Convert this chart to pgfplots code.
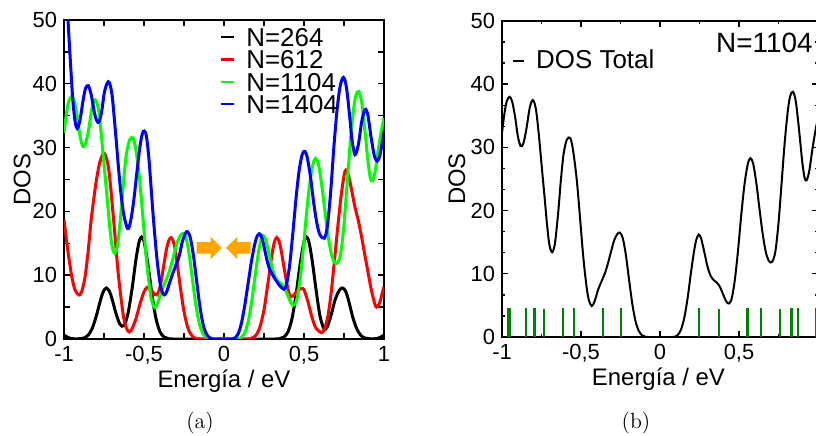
\documentclass[border=0pt]{standalone}
\usepackage{fontspec}
\usepackage{pgfplots}
\pgfplotsset{compat=1.18}
\newfontfamily\arial{Liberation Sans}
\definecolor{myorange}{RGB}{255,165,0}
\definecolor{stickgreen}{RGB}{0,128,0}

\pgfplotsset{
  dosaxis/.style={
    scale only axis, anchor=south west,
    xmin=-1, xmax=1, ymin=0, ymax=50,
    xtick={-1,-0.5,0,0.5,1},
    minor xtick={-0.75,-0.25,0.25,0.75},
    ytick={0,10,20,30,40,50},
    yticklabels={0,10,20,30,40,50},
    tick align=inside,
    major tick length=3bp, minor tick length=3bp,
    every tick/.style={black, line width=0.7bp},
    axis line style={line width=1bp},
    tick label style={font=\arial\fontsize{11}{12}\selectfont},
    label style={font=\arial\fontsize{12}{14}\selectfont},
    xtick pos=both, ytick pos=both,
    xticklabel pos=lower, yticklabel pos=left,
    xlabel={Energía / eV}, ylabel={DOS},
  }
}

\begin{document}
\begin{tikzpicture}
\useasboundingbox (0,0) rectangle (408bp,218bp);

% ---------------- (a) ----------------
\begin{axis}[dosaxis,
  at={(32bp,48.5bp)}, width=160bp, height=159.5bp,
  xticklabels={{-1},{-0,5},{0},{0,5},{1}},
  minor ytick={5,15,25,35,45},
  xlabel style={at={(axis description cs:0.5,-0.151)}, anchor=base},
  ylabel style={at={(axis description cs:-0.131,0.5)}, anchor=center},
  legend style={at={(axis description cs:0.4875,0.975)}, anchor=north west,
    draw=none, fill=none, inner sep=0pt, outer sep=0pt,
    font=\arial\fontsize{13}{14}\selectfont,
    row sep=1.85bp, column sep=5.5bp,
    nodes={inner sep=0pt, text height=9.3bp, text depth=0pt}},
  legend cell align=left,
  legend image code/.code={\draw[#1, line width=1.2bp] (0bp,0bp) -- (6.5bp,0bp);},
]
\addplot[black, line width=1.5bp, smooth] coordinates {
(-1.0,0.6) (-0.98,0.3) (-0.96,0.1) (-0.93,0.02) (-0.9,0.05) (-0.875,0.16) (-0.85,0.57)
(-0.825,1.58) (-0.8,3.44) (-0.775,5.81) (-0.755,7.4) (-0.735,8.0) (-0.715,7.4) (-0.7,6.3)
(-0.675,4.0) (-0.65,2.3) (-0.625,2.1) (-0.6,4.0) (-0.575,7.8) (-0.55,12.5) (-0.53,15.3)
(-0.515,16.0) (-0.5,15.3) (-0.475,11.6) (-0.45,6.9) (-0.425,3.2) (-0.4,1.13) (-0.375,0.32)
(-0.35,0.07) (-0.32,0) (0,0) (0.32,0) (0.35,0.07) (0.375,0.32) (0.4,1.13) (0.425,3.2)
(0.45,6.9) (0.475,11.6) (0.5,15.3) (0.515,16.0) (0.53,15.3) (0.55,12.5) (0.575,7.8)
(0.6,3.6) (0.625,1.6) (0.645,1.9) (0.67,3.8) (0.695,6.2) (0.72,7.6) (0.74,8.0) (0.76,7.5)
(0.78,5.9) (0.805,3.4) (0.83,1.58) (0.855,0.57) (0.88,0.16) (0.905,0.05) (0.93,0.02)
(0.96,0.1) (0.98,0.3) (1.0,0.6)};
\addlegendentry{N=264}
\addplot[red, line width=1.5bp, smooth] coordinates {
(-1.0,18.7) (-0.985,15.6) (-0.97,12.8) (-0.95,9.6) (-0.93,7.6) (-0.906,6.9) (-0.89,7.4)
(-0.87,9.5) (-0.85,13.5) (-0.83,18.7) (-0.8,24.5) (-0.775,27.8) (-0.748,29.1) (-0.72,26.5)
(-0.69,18.7) (-0.66,10.0) (-0.63,3.8) (-0.61,1.7) (-0.592,1.1) (-0.575,1.6) (-0.55,3.2)
(-0.525,5.5) (-0.5,7.4) (-0.48,8.1) (-0.46,7.8) (-0.44,7.2) (-0.42,6.9) (-0.4,8.1)
(-0.38,11.0) (-0.36,14.0) (-0.345,15.4) (-0.331,15.9) (-0.315,15.2) (-0.3,13.2)
(-0.275,8.5) (-0.25,4.3) (-0.225,1.7) (-0.2,0.5) (-0.175,0.1) (-0.15,0) (0,0)
(0.15,0) (0.175,0.15) (0.2,0.6) (0.225,1.9) (0.25,4.6) (0.275,8.8) (0.3,13.2) (0.315,15.2)
(0.329,15.9) (0.345,15.3) (0.36,13.5) (0.38,10.5) (0.4,7.8) (0.417,6.6) (0.44,7.0)
(0.46,7.6) (0.485,7.9) (0.5,7.7) (0.525,5.8) (0.55,3.4) (0.575,1.7) (0.61,1.0) (0.63,1.7)
(0.65,3.7) (0.67,7.3) (0.69,12.2) (0.71,17.3) (0.73,22.0) (0.75,25.6) (0.7625,26.5)
(0.78,25.5) (0.8,23.0) (0.82,20.5) (0.84,18.5) (0.86,16.0) (0.88,13.2) (0.9,10.5)
(0.92,7.8) (0.948,5.1) (0.97,5.5) (0.985,6.8) (1.0,8.2)};
\addlegendentry{N=612}
\addplot[green, line width=1.5bp, smooth] coordinates {
(-1.0,32.3) (-0.985,35.3) (-0.97,37.3) (-0.952,38.0) (-0.935,37.2) (-0.915,34.5)
(-0.9,31.8) (-0.882,30.2) (-0.865,30.6) (-0.845,33.0) (-0.825,36.2) (-0.805,37.5)
(-0.785,36.0) (-0.765,31.5) (-0.745,26.0) (-0.73,22.0) (-0.715,17.8) (-0.7,14.6)
(-0.683,13.4) (-0.665,14.8) (-0.645,19.5) (-0.627,24.9) (-0.61,29.0) (-0.59,31.2)
(-0.568,31.5) (-0.55,29.5) (-0.527,24.9) (-0.505,18.5) (-0.485,12.5) (-0.465,8.0)
(-0.45,5.8) (-0.432,4.9) (-0.415,5.6) (-0.39,7.6) (-0.37,8.8) (-0.35,10.0) (-0.33,11.6)
(-0.31,13.5) (-0.29,15.3) (-0.27,16.3) (-0.253,16.5) (-0.235,15.6) (-0.215,12.8)
(-0.195,8.9) (-0.175,5.2) (-0.155,2.5) (-0.135,1.0) (-0.115,0.3) (-0.095,0.05) (-0.075,0)
(0,0) (0.075,0) (0.095,0.05) (0.115,0.4) (0.135,1.3) (0.155,3.2) (0.175,6.2) (0.195,10.0)
(0.215,13.5) (0.23,15.4) (0.245,16.2) (0.26,15.6) (0.28,13.5) (0.3,11.2) (0.32,9.7)
(0.34,9.0) (0.36,8.6) (0.38,7.9) (0.4,6.7) (0.42,5.6) (0.437,5.3) (0.455,6.2) (0.475,9.3)
(0.495,14.0) (0.515,19.5) (0.535,24.2) (0.555,27.3) (0.572,28.3) (0.59,27.4) (0.61,24.3)
(0.63,20.2) (0.65,16.3) (0.67,13.4) (0.69,12.0) (0.71,11.9) (0.73,13.5) (0.75,18.0)
(0.77,24.5) (0.79,31.0) (0.81,36.0) (0.825,38.2) (0.842,38.8) (0.86,37.2) (0.88,32.8)
(0.9,27.8) (0.915,25.2) (0.928,24.8) (0.945,26.3) (0.965,29.8) (0.985,32.8) (1.0,34.6)};
\addlegendentry{N=1104}
\addplot[blue, line width=1.5bp, smooth] coordinates {
(-1.0,64) (-0.99,57) (-0.975,50) (-0.96,43.5) (-0.945,37.5) (-0.93,34.0) (-0.917,33.0)
(-0.9,34.3) (-0.88,37.5) (-0.865,39.3) (-0.848,39.7) (-0.83,38.3) (-0.81,35.5)
(-0.795,34.2) (-0.781,34.0) (-0.765,35.6) (-0.748,38.6) (-0.73,40.1) (-0.717,40.2)
(-0.7,38.3) (-0.68,33.0) (-0.66,27.0) (-0.644,22.8) (-0.625,19.3) (-0.602,17.3)
(-0.585,18.3) (-0.565,21.5) (-0.545,26.0) (-0.525,30.2) (-0.51,32.2) (-0.498,32.6)
(-0.485,31.8) (-0.47,28.5) (-0.455,23.5) (-0.44,18.5) (-0.42,12.8) (-0.4,8.8)
(-0.385,7.3) (-0.373,6.9) (-0.36,7.3) (-0.34,8.8) (-0.32,10.3) (-0.3,11.6) (-0.28,13.0)
(-0.26,15.3) (-0.24,16.6) (-0.227,16.8) (-0.21,15.8) (-0.19,12.9) (-0.17,8.9)
(-0.15,5.0) (-0.13,2.2) (-0.11,0.8) (-0.09,0.2) (-0.07,0) (0,0) (0.05,0) (0.07,0.2)
(0.09,0.9) (0.11,2.6) (0.13,5.3) (0.15,8.6) (0.17,11.9) (0.19,14.6) (0.205,16.0)
(0.221,16.5) (0.235,16.0) (0.25,14.5) (0.27,12.2) (0.2875,10.8) (0.31,9.8) (0.33,9.0)
(0.35,8.3) (0.375,7.8) (0.39,8.5) (0.41,11.5) (0.43,16.5) (0.45,22.0) (0.47,26.5)
(0.49,29.0) (0.506,29.4) (0.52,28.5) (0.54,25.5) (0.56,21.5) (0.58,18.2) (0.6,16.3)
(0.627,15.8) (0.645,17.5) (0.665,22.5) (0.685,29.5) (0.705,35.5) (0.725,39.5)
(0.746,41.0) (0.765,39.5) (0.785,35.0) (0.8,31.2) (0.819,28.9) (0.84,30.5) (0.86,34.0)
(0.875,35.6) (0.886,36.0) (0.9,35.0) (0.92,31.5) (0.94,28.7) (0.958,27.9) (0.975,28.8)
(0.99,31.0) (1.0,32.5)};
\addlegendentry{N=1404}
\fill[myorange] (axis cs:-0.171,13.4) -- (axis cs:-0.083,13.4) -- (axis cs:-0.083,12.5)
  -- (axis cs:-0.014,14.3) -- (axis cs:-0.083,16.0) -- (axis cs:-0.083,15.2)
  -- (axis cs:-0.171,15.2) -- cycle;
\fill[myorange] (axis cs:0.167,13.4) -- (axis cs:0.083,13.4) -- (axis cs:0.083,12.5)
  -- (axis cs:0.0125,14.3) -- (axis cs:0.083,16.0) -- (axis cs:0.083,15.2)
  -- (axis cs:0.167,15.2) -- cycle;
\end{axis}

% ---------------- (b) ----------------
\begin{axis}[dosaxis,
  at={(251bp,49.5bp)}, width=158bp, height=158bp,
  xticklabels={{-1},{-0,5},{0},{0,5},{}},
  minor y tick num=2,
  minor tick length=1.5bp,
  xlabel style={at={(axis description cs:0.495,-0.152)}, anchor=base},
  ylabel style={at={(axis description cs:-0.143,0.5)}, anchor=center},
  legend style={at={(axis description cs:0.031,0.908)}, anchor=north west,
    draw=none, fill=none, inner sep=0pt, outer sep=0pt,
    font=\arial\fontsize{13}{15}\selectfont,
    column sep=5.5bp,
    nodes={inner sep=0pt, text height=9.3bp, text depth=0pt}},
  legend cell align=left,
  legend image code/.code={\draw[#1, line width=0.9bp] (0bp,-1bp) -- (5.8bp,-1bp);},
]
\addplot[black, line width=1bp, smooth] coordinates {
(-1.0,32.3) (-0.985,35.3) (-0.97,37.3) (-0.952,38.0) (-0.935,37.2) (-0.915,34.5)
(-0.9,31.8) (-0.882,30.2) (-0.865,30.6) (-0.845,33.0) (-0.825,36.2) (-0.805,37.5)
(-0.785,36.0) (-0.765,31.5) (-0.745,26.0) (-0.73,22.0) (-0.715,17.8) (-0.7,14.6)
(-0.683,13.4) (-0.665,14.8) (-0.645,19.5) (-0.627,24.9) (-0.61,29.0) (-0.59,31.2)
(-0.568,31.5) (-0.55,29.5) (-0.527,24.9) (-0.505,18.5) (-0.485,12.5) (-0.465,8.0)
(-0.45,5.8) (-0.432,4.9) (-0.415,5.6) (-0.39,7.6) (-0.37,8.8) (-0.35,10.0) (-0.33,11.6)
(-0.31,13.5) (-0.29,15.3) (-0.27,16.3) (-0.253,16.5) (-0.235,15.6) (-0.215,12.8)
(-0.195,8.9) (-0.175,5.2) (-0.155,2.5) (-0.135,1.0) (-0.115,0.3) (-0.095,0.05) (-0.075,0)
(0,0) (0.075,0) (0.095,0.05) (0.115,0.4) (0.135,1.3) (0.155,3.2) (0.175,6.2) (0.195,10.0)
(0.215,13.5) (0.23,15.4) (0.245,16.2) (0.26,15.6) (0.28,13.5) (0.3,11.2) (0.32,9.7)
(0.34,9.0) (0.36,8.6) (0.38,7.9) (0.4,6.7) (0.42,5.6) (0.437,5.3) (0.455,6.2) (0.475,9.3)
(0.495,14.0) (0.515,19.5) (0.535,24.2) (0.555,27.3) (0.572,28.3) (0.59,27.4) (0.61,24.3)
(0.63,20.2) (0.65,16.3) (0.67,13.4) (0.69,12.0) (0.71,11.9) (0.73,13.5) (0.75,18.0)
(0.77,24.5) (0.79,31.0) (0.81,36.0) (0.825,38.2) (0.842,38.8) (0.86,37.2) (0.88,32.8)
(0.9,27.8) (0.915,25.2) (0.928,24.8) (0.945,26.3) (0.965,29.8) (0.985,32.8) (1.0,34.6)};
\addlegendentry{DOS Total}
\addplot[stickgreen, line width=1bp, ycomb, forget plot] coordinates {
(-0.960,4.6) (-0.950,4.6) (-0.850,4.6) (-0.797,4.6) (-0.791,4.6) (-0.734,4.5)
(-0.612,4.6) (-0.542,4.6) (-0.359,4.6) (-0.247,4.6)
(0.247,4.6) (0.375,4.5) (0.550,4.6) (0.556,4.6) (0.639,4.6) (0.759,4.5)
(0.830,4.6) (0.836,4.6) (0.875,4.6) (0.985,4.6)};
\node[anchor=base east, inner sep=0pt, font=\arial\fontsize{14}{16}\selectfont]
  at (axis description cs:0.984,0.901) {N=1104};
\end{axis}

\node[font=\fontsize{11}{13}\selectfont] at (100bp,6.5bp) {(a)};
\node[font=\fontsize{11}{13}\selectfont] at (318bp,6.5bp) {(b)};
\end{tikzpicture}
\end{document}
